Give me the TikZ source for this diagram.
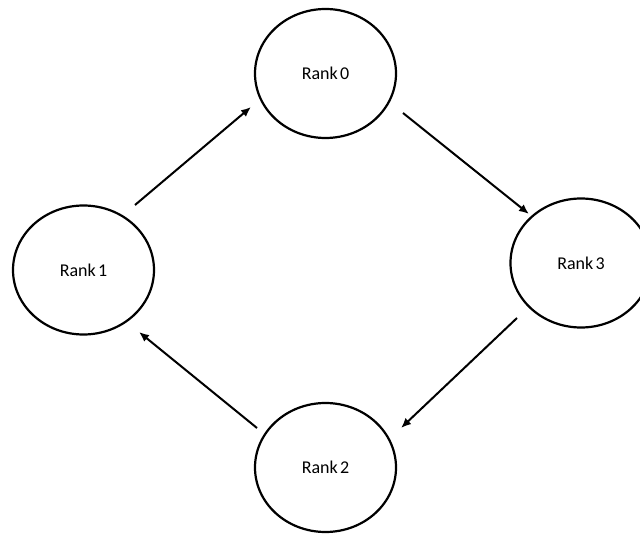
\documentclass[tikz,border=0pt]{standalone}
\usepackage{fontspec}
\setmainfont{Carlito}
\usetikzlibrary{arrows.meta,shapes.geometric}
\begin{document}
\begin{tikzpicture}[x=1pt,y=-1pt,
  rank/.style={draw=black, line width=2.2pt, ellipse, minimum width=141pt, minimum height=129pt, inner sep=0pt, font=\fontsize{18}{21}\selectfont},
  flow/.style={draw=black, line width=2pt, -{Latex[length=10pt,width=8.5pt]}}]
\useasboundingbox (0,0) rectangle (640,534);
\clip (0,0) rectangle (640,534);
\fill[white] (0,0) rectangle (640,534);
\node[rank] (r0) at (325.5,73.5) {Rank\hspace{0.12em}0};
\node[rank] (r1) at (83.5,270) {Rank\hspace{0.12em}1};
\node[rank] (r3) at (581,263) {Rank\hspace{0.12em}3};
\node[rank] (r2) at (325.5,467.5) {Rank\hspace{0.12em}2};
\coordinate (a1s) at (135,205);
\coordinate (a1e) at (251,107);
\coordinate (a2s) at (403,113);
\coordinate (a2e) at (529,214);
\coordinate (a3s) at (517,318);
\coordinate (a3e) at (401,428);
\coordinate (a4s) at (257,428);
\coordinate (a4e) at (139,332);
\draw[flow] (a1s) -- (a1e);
\draw[flow] (a2s) -- (a2e);
\draw[flow] (a3s) -- (a3e);
\draw[flow] (a4s) -- (a4e);
\end{tikzpicture}
\end{document}
